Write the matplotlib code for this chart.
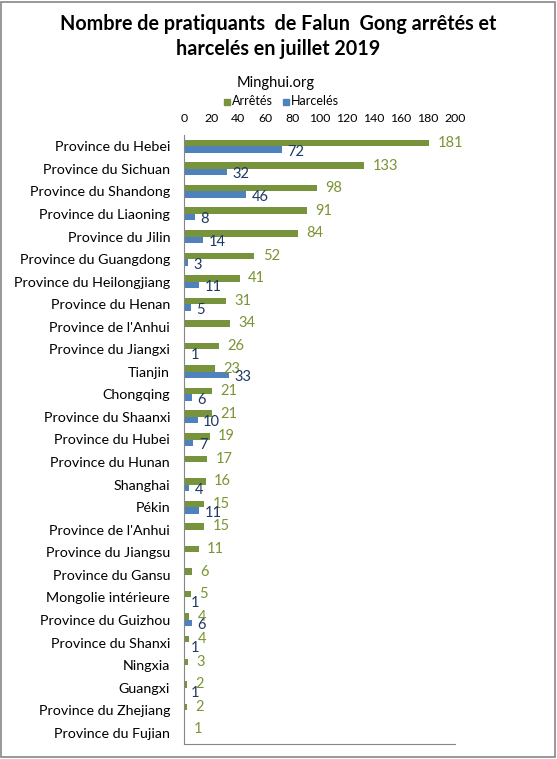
import numpy as np
import matplotlib
matplotlib.use("Agg")
import matplotlib.pyplot as plt
from matplotlib.patches import Rectangle

plt.rcParams['font.family'] = ['Lato', 'DejaVu Sans']

# données
provinces = ["Province du Hebei", "Province du Sichuan", "Province du Shandong",
             "Province du Liaoning", "Province du Jilin", "Province du Guangdong",
             "Province du Heilongjiang", "Province du Henan", "Province de l'Anhui",
             "Province du Jiangxi", "Tianjin", "Chongqing", "Province du Shaanxi",
             "Province du Hubei", "Province du Hunan", "Shanghai", "Pékin",
             "Province de l'Anhui", "Province du Jiangsu", "Province du Gansu",
             "Mongolie intérieure", "Province du Guizhou", "Province du Shanxi",
             "Ningxia", "Guangxi", "Province du Zhejiang", "Province du Fujian"]
arretes = [181, 133, 98, 91, 84, 52, 41, 31, 34, 26, 23, 21, 21, 19, 17, 16, 15,
           15, 11, 6, 5, 4, 4, 3, 2, 2, 1]
harceles = [72, 32, 46, 8, 14, 3, 11, 5, None, 1, 33, 6, 10, 7, None, 4, 11,
            None, None, None, 1, 6, 1, None, 1, None, None]
ticks = [0, 20, 40, 60, 80, 100, 120, 140, 160, 180, 200]

green = '#77933C'
blue = '#4F81BD'
green_txt = '#7A9433'
blue_txt = '#1F3864'

fig = plt.figure(figsize=(5.57, 7.59), dpi=100)
ax = fig.add_axes([184 / 557, 15 / 759, 271 / 557, 609 / 759])

y = np.arange(len(provinces))
h = 0.29
for i, v in enumerate(arretes):
    ax.barh(y[i] - h / 2, v, height=h, color=green)
    ax.annotate(str(v), (v, y[i] - h / 2), xytext=(6, 0), textcoords='offset points',
                va='center', ha='left', fontsize=10.5, color=green_txt)
for i, v in enumerate(harceles):
    if v is None:
        continue
    ax.barh(y[i] + h / 2, v, height=h, color=blue)
    ax.annotate(str(v), (v, y[i] + h / 2 + 0.1), xytext=(4, 0), textcoords='offset points',
                va='center', ha='left', fontsize=10.5, color=blue_txt)

ax.set_ylim(len(provinces) - 0.5, -0.5)
ax.set_xlim(0, 200)
ax.set_yticks(y)
ax.set_yticklabels(provinces, fontsize=10.3)
ax.set_xticks(ticks)
ax.xaxis.tick_top()
ax.tick_params(axis='x', length=0, pad=8, labelsize=8.8)
ax.tick_params(axis='y', length=0, pad=10)
for s in ['top', 'right']:
    ax.spines[s].set_visible(False)
for s in ['left', 'bottom']:
    ax.spines[s].set_color('#868686')

fig.text(0.5, 0.968, "Nombre de pratiquants  de Falun  Gong arrêtés et",
         ha='center', va='center', fontsize=14.2, fontweight='bold')
fig.text(0.5, 0.936, "harcelés en juillet 2019",
         ha='center', va='center', fontsize=14.2, fontweight='bold')
fig.text(276 / 557, 1 - 83 / 759, "Minghui.org", ha='center', va='center', fontsize=10.5)

# légende
fig.patches.append(Rectangle((224 / 557, 1 - 105 / 759), 6 / 557, 6 / 759,
                             transform=fig.transFigure, color=green))
fig.text(232 / 557, 1 - 101 / 759, "Arrêtés", ha='left', va='center', fontsize=9)
fig.patches.append(Rectangle((283 / 557, 1 - 105 / 759), 6 / 557, 6 / 759,
                             transform=fig.transFigure, color=blue))
fig.text(291 / 557, 1 - 101 / 759, "Harcelés", ha='left', va='center', fontsize=9)

# cadre
fig.patches.append(Rectangle((0.001, 0.002), 0.996, 0.996, transform=fig.transFigure,
                             fill=False, edgecolor='#868686', linewidth=1.2))

fig.savefig('out.png', dpi=100)
